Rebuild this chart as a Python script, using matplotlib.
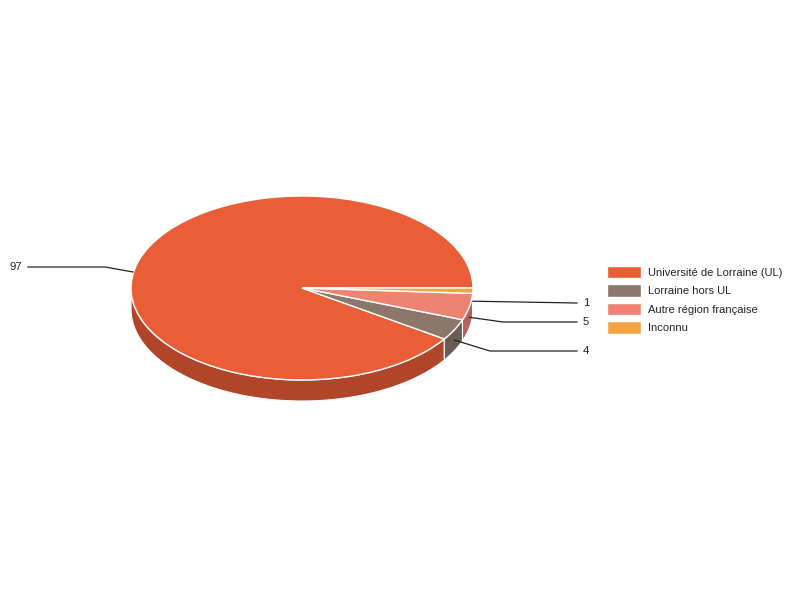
import matplotlib.pyplot as plt
import matplotlib.patches as mpatches
import numpy as np

plt.rcParams['font.family'] = ['Liberation Sans', 'DejaVu Sans']

labels = ['Université de Lorraine (UL)', 'Lorraine hors UL', 'Autre région française', 'Inconnu']
values = [97, 4, 5, 1]
colors = ['#E95E37', '#8A776A', '#EE8273', '#F5A342']
side_colors = ['#B0452A', '#6A5C50', '#B5635A', '#BA7C33']

# pixel geometry of the 3d pie (center, radii, depth)
cx, cy = 302, 288
rx, ry = 171, 92
depth = 21 / ry


def px(x, y):
    # pixel (from top left) -> data coords of the unit pie
    return (x - cx) / rx, (cy - y) / ry


fig = plt.figure(figsize=(8, 6), dpi=100)
ax = fig.add_axes([0, 0, 1, 1])

wedges, _ = ax.pie(values, colors=colors, startangle=0, counterclock=True, radius=1,
                   wedgeprops=dict(edgecolor='white', linewidth=1, zorder=3))
ax.set_aspect('auto')
ax.set_xlim(-cx / rx, (800 - cx) / rx)
ax.set_ylim(-(600 - cy) / ry, cy / ry)
ax.axis('off')

# side walls of the front half
for w, sc in zip(wedges, side_colors):
    t1, t2 = w.theta1 % 360, w.theta2 % 360
    if t2 <= t1:
        t2 += 360
    for lo, hi in [(180, 360), (540, 720)]:
        a, b = max(t1, lo), min(t2, hi)
        if b <= a:
            continue
        t = np.radians(np.linspace(a, b, 100))
        xs = np.concatenate([np.cos(t), np.cos(t[::-1])])
        ys = np.concatenate([np.sin(t), np.sin(t[::-1]) - depth])
        ax.add_patch(mpatches.Polygon(np.column_stack([xs, ys]), closed=True,
                                      facecolor=sc, edgecolor='white', linewidth=0.8, zorder=2))

# value labels with leader lines
mids = [np.radians((w.theta1 + w.theta2) / 2) for w in wedges]
label_pos = [(22, 267, 'right'), (583, 351, 'left'), (583, 322, 'left'), (583, 303, 'left')]
elbows = [(105, 267), (490, 351), (503, 322), None]
for i, (v, m) in enumerate(zip(values, mids)):
    if np.sin(m) < 0:
        ax0, ay0 = np.cos(m), np.sin(m) - depth / 2
    else:
        ax0, ay0 = px(133, 272)
    tx, ty, ha = label_pos[i]
    end = px(tx + (6 if ha == 'right' else -6), ty)
    pts = [(ax0, ay0)]
    if elbows[i] is not None:
        pts.append(px(*elbows[i]))
    pts.append(end)
    pts = np.array(pts)
    ax.plot(pts[:, 0], pts[:, 1], color='#222222', lw=0.9, zorder=4)
    ax.text(*px(tx, ty), str(v), ha=ha, va='center', fontsize=8.2, color='#222222')

leg = ax.legend(wedges, labels, loc='upper left', bbox_to_anchor=(607 / 800, 1 - 266 / 600),
                bbox_transform=fig.transFigure, frameon=False, fontsize=8,
                handlelength=3.1, handleheight=1.35, handletextpad=0.55,
                labelspacing=0.53, borderpad=0, borderaxespad=0)
for t in leg.get_texts():
    t.set_color('#222222')

fig.savefig('out.png', dpi=100)
